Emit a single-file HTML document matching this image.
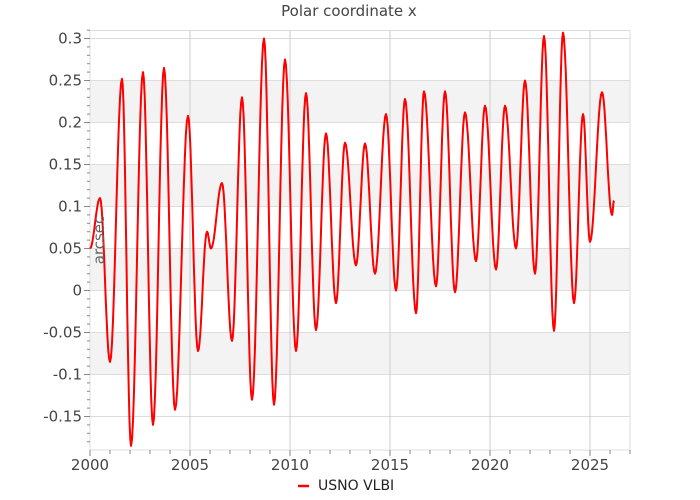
<!DOCTYPE html>
<html><head><meta charset="utf-8"><style>
body{margin:0;background:#fff;}
svg{display:block;font-family:"DejaVu Sans","Liberation Sans",sans-serif;}
</style></head><body>
<svg id="s" width="700" height="500" xmlns="http://www.w3.org/2000/svg">
<rect width="700" height="500" fill="#fff"/>
<g id="bands"></g>
<g id="grid"></g>
<rect x="90" y="30.5" width="540" height="419.5" fill="none" stroke="#ddd"/>
<g id="ticks" stroke="#888"></g>
<g id="labels" fill="#444" font-size="15"></g>
<path id="p" fill="none" stroke="#f00" stroke-width="2" stroke-linejoin="round"/>
<text x="349" y="16" text-anchor="middle" font-size="15" fill="#444">Polar coordinate x</text>
<text x="104" y="240" text-anchor="middle" font-size="15" fill="#666" transform="rotate(-90 104 240)">arcsec</text>
<line x1="298" y1="486" x2="309" y2="486" stroke="#f00" stroke-width="2.5"/>
<text x="318" y="490" font-size="14" fill="#222">USNO VLBI</text>
</svg>
<script>
const Y=v=>290.5-840*v, X=t=>90+20*(t-2000);
const ns="http://www.w3.org/2000/svg";
function el(p,tag,a,txt){const e=document.createElementNS(ns,tag);for(const k in a)e.setAttribute(k,a[k]);if(txt!==undefined)e.textContent=txt;document.getElementById(p).appendChild(e);}
[[0.25,0.2],[0.15,0.1],[0.05,0],[-0.05,-0.1]].forEach(([a,b])=>el("bands","rect",{x:90,y:Y(a),width:540,height:Y(b)-Y(a),fill:"#f3f3f3"}));
for(let i=-3;i<=6;i++){const v=i*0.05;el("grid","line",{x1:90,x2:630,y1:Y(v),y2:Y(v),stroke:"#ddd"});
 el("labels","text",{x:82,y:Y(v)+5,"text-anchor":"end"},(Math.round(v*100)/100).toString());}
for(let y=2005;y<=2025;y+=5)el("grid","line",{x1:X(y),x2:X(y),y1:30,y2:450,stroke:"#ccc"});
for(let y=2000;y<=2025;y+=5)el("labels","text",{x:X(y),y:470,"text-anchor":"middle"},y);
for(let i=-19;i<=31;i++){const yy=Y(i*0.01);if(yy<30||yy>450)continue;el("ticks","line",{x1:i%5==0?84:87,x2:90,y1:yy,y2:yy});}
for(let y=2000;y<=2027;y++)el("ticks","line",{x1:X(y),x2:X(y),y1:450,y2:y%5==0?456:454});
const pts=[[2000,0.05],[2000.5,0.11],[2001.0,-0.085],[2001.6,0.252],[2002.05,-0.185],[2002.65,0.26],[2003.15,-0.16],[2003.7,0.265],[2004.25,-0.142],[2004.9,0.208],[2005.4,-0.072],[2005.85,0.07],[2006.05,0.05],[2006.6,0.128],[2007.1,-0.06],[2007.6,0.23],[2008.1,-0.13],[2008.7,0.3],[2009.2,-0.136],[2009.75,0.275],[2010.3,-0.072],[2010.8,0.235],[2011.3,-0.047],[2011.8,0.187],[2012.3,-0.015],[2012.75,0.176],[2013.3,0.03],[2013.75,0.175],[2014.25,0.02],[2014.8,0.21],[2015.3,0.0],[2015.75,0.228],[2016.3,-0.027],[2016.7,0.237],[2017.3,0.005],[2017.75,0.237],[2018.25,-0.002],[2018.75,0.212],[2019.3,0.035],[2019.75,0.22],[2020.3,0.025],[2020.75,0.22],[2021.3,0.05],[2021.75,0.25],[2022.25,0.02],[2022.7,0.303],[2023.2,-0.048],[2023.65,0.307],[2024.2,-0.015],[2024.65,0.21],[2025.0,0.058],[2025.6,0.236],[2026.1,0.09],[2026.2,0.107]];
let d="";
for(let i=0;i<pts.length-1;i++){const [t0,v0]=pts[i],[t1,v1]=pts[i+1];const n=12;
 for(let k=(i?1:0);k<=n;k++){const f=k/n,t=t0+(t1-t0)*f,v=v0+(v1-v0)*(1-Math.cos(Math.PI*f))/2;
  d+=(d?"L":"M")+X(t).toFixed(1)+" "+Y(v).toFixed(1);}}
document.getElementById("p").setAttribute("d",d);
</script>
</body></html>
